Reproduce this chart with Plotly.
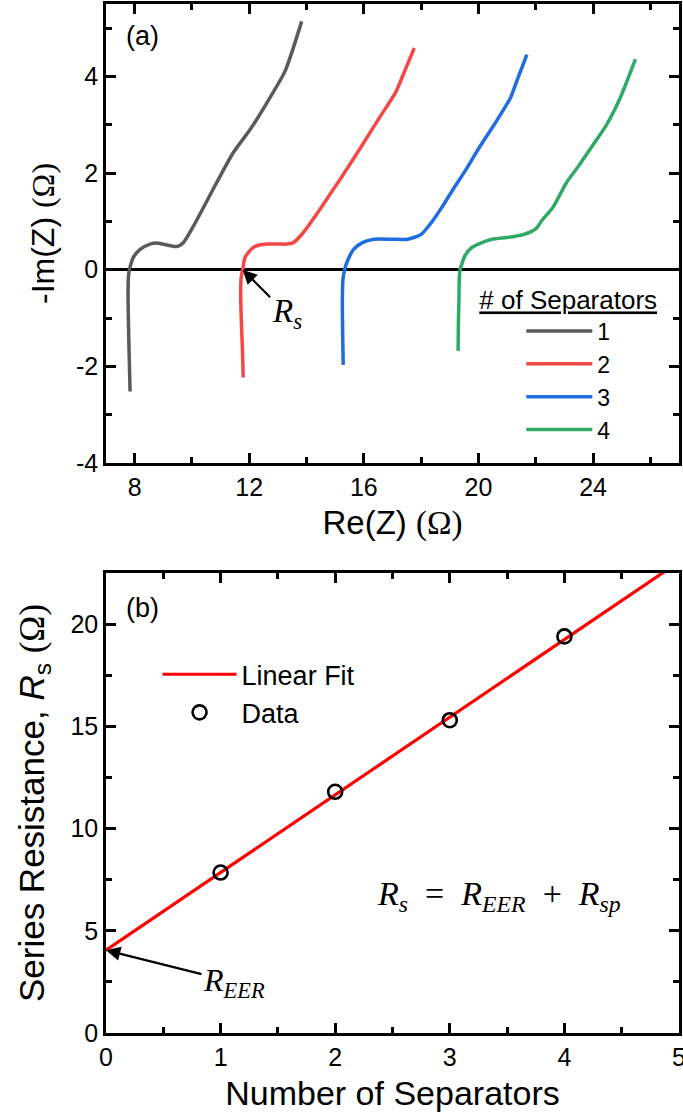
import plotly.graph_objects as go

# ---------------- Panel (a): Nyquist plots ----------------
sep1_re = [7.84, 7.81, 7.78, 7.77, 7.79, 7.82, 7.87, 7.95, 8.19, 8.54, 8.83, 9.12, 9.47, 9.70, 10.05, 10.86, 11.44, 12.03, 12.61, 13.25, 13.83]
sep1_im = [-2.52, -1.80, -1.00, -0.40, -0.10, 0.00, 0.12, 0.25, 0.42, 0.53, 0.55, 0.51, 0.48, 0.56, 0.90, 1.80, 2.42, 2.90, 3.45, 4.11, 5.14]

sep2_re = [11.79, 11.76, 11.72, 11.70, 11.72, 11.77, 11.85, 12.00, 12.14, 12.35, 12.61, 13.00, 13.31, 13.54, 13.89, 14.47, 14.93, 15.17, 15.88, 16.58, 17.11, 17.41, 17.76]
sep2_im = [-2.23, -1.60, -1.00, -0.47, -0.15, 0.00, 0.25, 0.38, 0.46, 0.51, 0.53, 0.53, 0.53, 0.56, 0.77, 1.25, 1.66, 1.87, 2.52, 3.18, 3.67, 4.09, 4.59]

sep3_re = [15.28, 15.26, 15.25, 15.27, 15.33, 15.42, 15.64, 15.95, 16.35, 17.00, 17.53, 18.00, 18.35, 18.71, 19.10, 19.53, 20.06, 20.59, 21.12, 21.36, 21.69]
sep3_im = [-1.97, -1.30, -0.61, -0.20, 0.00, 0.17, 0.42, 0.56, 0.63, 0.63, 0.63, 0.73, 0.97, 1.28, 1.65, 2.04, 2.56, 3.04, 3.56, 3.94, 4.45]

sep4_re = [19.29, 19.30, 19.32, 19.33, 19.36, 19.53, 19.75, 20.00, 20.47, 21.07, 21.59, 22.01, 22.24, 22.59, 23.07, 23.50, 23.89, 24.48, 24.95, 25.48]
sep4_im = [-1.68, -1.10, -0.61, -0.20, 0.00, 0.29, 0.45, 0.53, 0.63, 0.67, 0.73, 0.85, 1.04, 1.28, 1.80, 2.15, 2.49, 3.01, 3.56, 4.36]

series_names = ["1", "2", "3", "4"]
series_colors = ["#5a5a5a", "#f44848", "#1f6de0", "#2eaa66"]

# ---------------- Panel (b): series resistance ----------------
n_separators = [1, 2, 3, 4]
rs_values = [7.85, 11.8, 15.3, 19.4]
fit_x = [0, 5]
fit_y = [4.05, 23.05]
r_eer = 4.05
rs_point = [11.77, 0.0]

x_ticks_a = [8, 12, 16, 20, 24]
y_ticks_a = [-4, -2, 0, 2, 4]
y_ticktext_a = ["-4", "-2", "0", "2", "4"]

FONT = "Arial, Liberation Sans, sans-serif"
SERIF = "Liberation Serif, Times New Roman, serif"

fig = go.Figure()

for xs, ys, nm, col in zip([sep1_re, sep2_re, sep3_re, sep4_re],
                           [sep1_im, sep2_im, sep3_im, sep4_im],
                           series_names, series_colors):
    fig.add_trace(go.Scatter(x=xs, y=ys, mode="lines", name=nm,
                             line=dict(color=col, width=3.5, shape="spline", smoothing=0.6),
                             xaxis="x", yaxis="y", legend="legend"))

fig.add_trace(go.Scatter(x=fit_x, y=fit_y, mode="lines", name="Linear Fit",
                         line=dict(color="#ff0000", width=3.2),
                         xaxis="x2", yaxis="y2", legend="legend2"))
fig.add_trace(go.Scatter(x=n_separators, y=rs_values, mode="markers", name="Data",
                         marker=dict(symbol="circle-open", size=14, color="black",
                                     line=dict(width=2.6, color="black")),
                         xaxis="x2", yaxis="y2", legend="legend2"))

common = dict(showline=True, linecolor="black", linewidth=2.5, mirror="ticks",
              ticks="inside", ticklen=10, tickwidth=2.5, tickcolor="black",
              showgrid=False, zeroline=False, automargin=False,
              ticklabeloverflow="allow",
              tickfont=dict(size=25, color="black", family=FONT),
              minor=dict(ticks="inside", ticklen=6, tickwidth=2.5, tickcolor="black"))

omega = "<span style='font-family:Liberation Serif'>(Ω)</span>"

fig.update_layout(
    width=683, height=1116,
    margin=dict(l=106, r=4, t=4, b=83),
    paper_bgcolor="white", plot_bgcolor="white",
    font=dict(family=FONT, color="black"),
    xaxis=dict(common, domain=[0, 1], range=[7, 27], tickvals=x_ticks_a,
               minor=dict(common["minor"], dtick=2, tick0=0),
               title=dict(text="Re(Z) " + omega, font=dict(size=33), standoff=12),
               anchor="y"),
    yaxis=dict(common, domain=[0.554, 1.0], range=[-4, 5.5], tickvals=y_ticks_a,
               ticktext=y_ticktext_a,
               minor=dict(common["minor"], dtick=1, tick0=0),
               zeroline=True, zerolinecolor="black", zerolinewidth=2.5,
               title=dict(text="-Im(Z) " + omega, font=dict(size=32), standoff=12),
               anchor="x"),
    xaxis2=dict(common, domain=[0, 1], range=[0, 5], dtick=1, tick0=0,
                minor=dict(common["minor"], dtick=0.5, tick0=0),
                title=dict(text="Number of Separators", font=dict(size=34), standoff=12),
                anchor="y2"),
    yaxis2=dict(common, domain=[0, 0.447], range=[0, 22.5], dtick=5, tick0=0,
                minor=dict(common["minor"], dtick=2.5, tick0=0),
                title=dict(text="Series Resistance, <i>R</i><sub>s</sub> " + omega,
                           font=dict(size=35), standoff=16),
                anchor="x2"),
    legend=dict(title=dict(text="<u># of Separators</u>", font=dict(size=26)),
                font=dict(size=23), x=0.648, y=0.736, xanchor="left", yanchor="top",
                bgcolor="rgba(0,0,0,0)", indentation=44, tracegroupgap=0, itemwidth=66),
    legend2=dict(font=dict(size=27), x=0.09, y=0.372, xanchor="left", yanchor="top",
                 bgcolor="rgba(0,0,0,0)", itemwidth=74),
    showlegend=True,
)

fig.add_annotation(text="(a)", xref="paper", yref="paper", x=0.063, y=0.969,
                   showarrow=False, font=dict(size=27), xanchor="center", yanchor="middle")
fig.add_annotation(text="(b)", xref="paper", yref="paper", x=0.063, y=0.413,
                   showarrow=False, font=dict(size=27), xanchor="center", yanchor="middle")

fig.add_annotation(text="<i>R</i><sub><i>s</i></sub>", x=rs_point[0], y=rs_point[1],
                   xref="x", yref="y", showarrow=True, ax=44, ay=44,
                   arrowhead=2, arrowsize=1.3, arrowwidth=2.2, arrowcolor="black",
                   font=dict(size=33, family=SERIF))
fig.add_annotation(text="<i>R</i><sub><i>EER</i></sub>", x=0, y=r_eer,
                   xref="x2", yref="y2", showarrow=True, ax=128, ay=32,
                   arrowhead=2, arrowsize=1.3, arrowwidth=2.2, arrowcolor="black",
                   font=dict(size=32, family=SERIF))
fig.add_annotation(text="<i>R</i><sub><i>s</i></sub>&nbsp; = &nbsp;<i>R</i><sub><i>EER</i></sub>&nbsp; + &nbsp;<i>R</i><sub><i>sp</i></sub>",
                   x=3.43, y=6.7, xref="x2", yref="y2", showarrow=False,
                   font=dict(size=34, family=SERIF))

fig.write_html("out.html")
